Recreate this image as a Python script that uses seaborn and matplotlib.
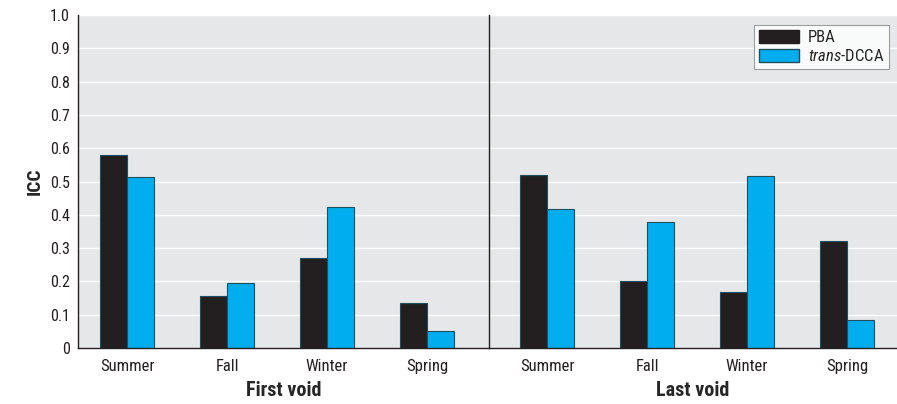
import pandas as pd
import matplotlib
matplotlib.use("Agg")
import matplotlib.pyplot as plt
from matplotlib import font_manager
import seaborn as sns

# values
seasons = ["Summer", "Fall", "Winter", "Spring"]
methods = ["PBA", "trans-DCCA"]
first_pba = [0.58, 0.157, 0.27, 0.135]
first_dcca = [0.515, 0.195, 0.423, 0.05]
last_pba = [0.52, 0.20, 0.168, 0.32]
last_dcca = [0.418, 0.377, 0.516, 0.085]
yticks = [0, 0.1, 0.2, 0.3, 0.4, 0.5, 0.6, 0.7, 0.8, 0.9, 1.0]
ytick_labels = ["0", "0.1", "0.2", "0.3", "0.4", "0.5", "0.6", "0.7", "0.8", "0.9", "1.0"]

sns.set_style("white")
installed = {f.name for f in font_manager.fontManager.ttflist}
font_name = "Roboto"
for cand in ["Liberation Sans Narrow", "Roboto Condensed", "DejaVu Sans Condensed", "Roboto"]:
    if cand in installed:
        font_name = cand
        break
plt.rcParams['font.family'] = [font_name, 'DejaVu Sans']
plt.rcParams['mathtext.fontset'] = 'custom'
plt.rcParams['mathtext.it'] = font_name + ':italic'
plt.rcParams['mathtext.rm'] = font_name

def long_frame(pba, dcca):
    rows = []
    for s, a, b in zip(seasons, pba, dcca):
        rows.append({"season": s, "method": methods[0], "icc": a})
        rows.append({"season": s, "method": methods[1], "icc": b})
    return pd.DataFrame(rows)

df_first = long_frame(first_pba, first_dcca)
df_last = long_frame(last_pba, last_dcca)

palette = {"PBA": "#231f20", "trans-DCCA": "#00aeef"}
bg = "#e6e7e8"

fig = plt.figure(figsize=(8.97, 4.04), dpi=100)
ax1 = fig.add_axes([78 / 897, 1 - 348 / 404, (489 - 78) / 897, (348 - 15) / 404])
ax2 = fig.add_axes([489 / 897, 1 - 348 / 404, (897 - 489) / 897, (348 - 15) / 404], sharey=ax1)

for ax, df, xlim, label in [(ax1, df_first, (-0.49, 3.62), "First void"),
                            (ax2, df_last, (-0.58, 3.5), "Last void")]:
    ax.set_facecolor(bg)
    ax.grid(axis="y", color="white", linewidth=1.0)
    ax.set_axisbelow(True)
    sns.barplot(data=df, x="season", y="icc", hue="method", palette=palette,
                width=0.54, saturation=1, edgecolor="#1d4f5e", linewidth=0.8,
                ax=ax, legend=False, zorder=2)
    ax.set_xlim(*xlim)
    ax.set_ylim(0, 1.0)
    ax.set_xlabel(label, fontsize=14.5, fontweight="bold", labelpad=5)
    ax.tick_params(axis="x", length=0, labelsize=12, pad=8, colors="#231f20")
    ax.tick_params(axis="y", length=0, labelsize=11.5, pad=6, colors="#231f20")
    for side in ["top", "right"]:
        ax.spines[side].set_visible(False)
    ax.spines["bottom"].set_color("#231f20")
    ax.spines["left"].set_color("#231f20")
    ax.spines["bottom"].set_linewidth(1.0)
    ax.spines["left"].set_linewidth(1.0)

ax1.set_yticks(yticks)
ax1.set_yticklabels(ytick_labels)
ax1.set_ylabel("ICC", fontsize=14, fontweight="bold")
ax1.yaxis.set_label_coords(-34 / 411, 0.5)
ax2.set_ylabel("")
ax2.tick_params(axis="y", labelleft=False)

# legend
handles = [plt.Rectangle((0, 0), 1, 1, facecolor=palette["PBA"], edgecolor="#231f20"),
           plt.Rectangle((0, 0), 1, 1, facecolor=palette["trans-DCCA"], edgecolor="#1d4f5e")]
leg = ax2.legend(handles, ["PBA", r"$\it{trans}$-DCCA"], loc="upper right",
                 bbox_to_anchor=(0.98, 0.97), fontsize=12, frameon=True, fancybox=False,
                 handlelength=2.4, handleheight=0.8, borderpad=0.3, labelspacing=0.2,
                 handletextpad=0.5, borderaxespad=0)
leg.get_frame().set_edgecolor("#888888")
leg.get_frame().set_linewidth(0.8)
leg.get_frame().set_facecolor("white")

fig.savefig("out.png", dpi=100)
